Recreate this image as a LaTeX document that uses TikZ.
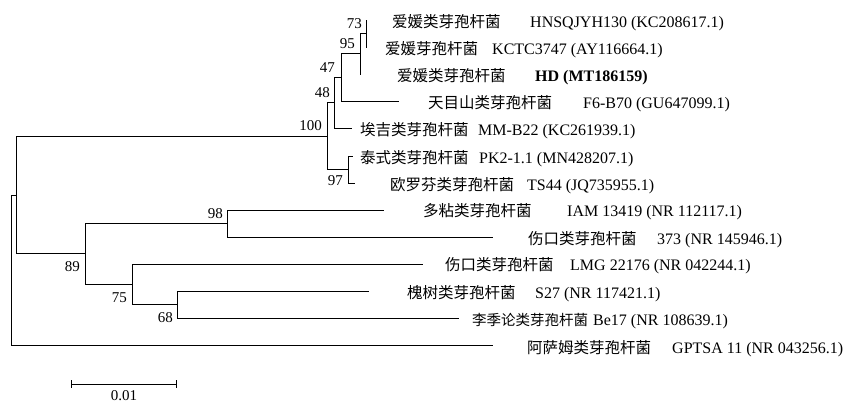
\documentclass[tikz,border=0pt]{standalone}
\usepackage{fontspec}
\setmainfont{Liberation Serif}
\newfontfamily\cjk{Noto Sans CJK SC}
\begin{document}
\begin{tikzpicture}[x=1pt,y=-1pt,
  br/.style={line width=1pt,line cap=rect},
  cn/.style={anchor=base west,inner sep=0pt,font=\cjk\fontsize{15.5}{18}\selectfont},
  la/.style={anchor=base west,inner sep=0pt,font=\fontsize{16}{18}\selectfont},
  bs/.style={anchor=base east,inner sep=0pt,font=\fontsize{15}{18}\selectfont}]
\useasboundingbox (0,0) rectangle (845,402);
% leaf tips
\coordinate (t1) at (366,20);
\coordinate (t2) at (366,47);
\coordinate (t3) at (360,74);
\coordinate (t4) at (398,101);
\coordinate (t5) at (351,128);
\coordinate (t6) at (352,156);
\coordinate (t7) at (354,183);
\coordinate (t8) at (383,210);
\coordinate (t9) at (492,237);
\coordinate (t10) at (422,264);
\coordinate (t11) at (368,291);
\coordinate (t12) at (458,318);
\coordinate (t13) at (492,345);
% internal nodes
\coordinate (n73) at (366,33.5);
\coordinate (n95) at (360,53.75);
\coordinate (n47) at (341,77.4);
\coordinate (n48) at (334,102.7);
\coordinate (n97) at (348,169.5);
\coordinate (n100) at (327,136);
\coordinate (n98) at (227,223.5);
\coordinate (n68) at (177,304.5);
\coordinate (n75) at (132,284);
\coordinate (n89) at (85,253.8);
\coordinate (nA) at (16,195);
\coordinate (root) at (11,270);
% branches
\draw[br] (n73) |- (t1);
\draw[br] (n73) |- (t2);
\draw[br] (n95) |- (n73);
\draw[br] (n95) |- (t3);
\draw[br] (n47) |- (n95);
\draw[br] (n47) |- (t4);
\draw[br] (n48) |- (n47);
\draw[br] (n48) |- (t5);
\draw[br] (n97) |- (t6);
\draw[br] (n97) |- (t7);
\draw[br] (n100) |- (n48);
\draw[br] (n100) |- (n97);
\draw[br] (n98) |- (t8);
\draw[br] (n98) |- (t9);
\draw[br] (n68) |- (t11);
\draw[br] (n68) |- (t12);
\draw[br] (n75) |- (t10);
\draw[br] (n75) |- (n68);
\draw[br] (n89) |- (n98);
\draw[br] (n89) |- (n75);
\draw[br] (nA) |- (n100);
\draw[br] (nA) |- (n89);
\draw[br] (root) |- (nA);
\draw[br] (root) |- (t13);
% bootstrap values
\node[bs] (b73) at ([shift={(-4,-5.5)}]n73) {73};
\node[bs] (b95) at ([shift={(-5,-5.5)}]n95) {95};
\node[bs] (b47) at ([shift={(-6,-4.5)}]n47) {47};
\node[bs] (b48) at ([shift={(-4,-5.5)}]n48) {48};
\node[bs] (b100) at ([shift={(-5,-6)}]n100) {100};
\node[bs] (b97) at ([shift={(-5,15.5)}]n97) {97};
\node[bs] (b98) at ([shift={(-4,-5.5)}]n98) {98};
\node[bs] (b89) at ([shift={(-5,18)}]n89) {89};
\node[bs] (b75) at ([shift={(-5,18)}]n75) {75};
\node[bs] (b68) at ([shift={(-4,17.5)}]n68) {68};
% leaf labels
\node[cn] (c1) at (392,27) {爱媛类芽孢杆菌};
\node[la] (l1) at (530,27) {HNSQJYH130 (KC208617.1)};
\node[cn] (c2) at (385,54) {爱媛芽孢杆菌};
\node[la] (l2) at (492,54) {KCTC3747 (AY116664.1)};
\node[cn] (c3) at (397,81) {爱媛类芽孢杆菌};
\node[la,font=\bfseries\fontsize{16}{18}\selectfont] (l3) at (535,81) {HD (MT186159)};
\node[cn] (c4) at (428,108) {天目山类芽孢杆菌};
\node[la] (l4) at (583,108) {F6-B70 (GU647099.1)};
\node[cn] (c5) at (360,135) {埃吉类芽孢杆菌};
\node[la] (l5) at (478,135) {MM-B22 (KC261939.1)};
\node[cn] (c6) at (360,163) {泰式类芽孢杆菌};
\node[la] (l6) at (479,163) {PK2-1.1 (MN428207.1)};
\node[cn] (c7) at (390,190) {欧罗芬类芽孢杆菌};
\node[la] (l7) at (527,190) {TS44 (JQ735955.1)};
\node[cn] (c8) at (423,216) {多粘类芽孢杆菌};
\node[la] (l8) at (567,216) {IAM 13419 (NR 112117.1)};
\node[cn] (c9) at (528,244) {伤口类芽孢杆菌};
\node[la] (l9) at (657,244) {373 (NR 145946.1)};
\node[cn] (c10) at (445,270) {伤口类芽孢杆菌};
\node[la] (l10) at (570,270) {LMG 22176 (NR 042244.1)};
\node[cn] (c11) at (407,298) {槐树类芽孢杆菌};
\node[la] (l11) at (535,298) {S27 (NR 117421.1)};
\node[cn,font=\cjk\fontsize{14.5}{18}\selectfont] (c12) at (472,325) {李季论类芽孢杆菌};
\node[la] (l12) at (593,325) {Be17 (NR 108639.1)};
\node[cn] (c13) at (527,353) {阿萨姆类芽孢杆菌};
\node[la] (l13) at (672,353) {GPTSA 11 (NR 043256.1)};
% scale bar
\coordinate (s1) at (71,384);
\coordinate (s2) at (176,384);
\draw[line width=1pt] (s1) -- (s2);
\draw[line width=1pt] ([yshift=4pt]s1) -- ([yshift=-4pt]s1);
\draw[line width=1pt] ([yshift=4pt]s2) -- ([yshift=-4pt]s2);
\node[inner sep=0pt,anchor=base,font=\fontsize{15}{18}\selectfont] (sl) at (124,400) {0.01};
\end{tikzpicture}
\end{document}
